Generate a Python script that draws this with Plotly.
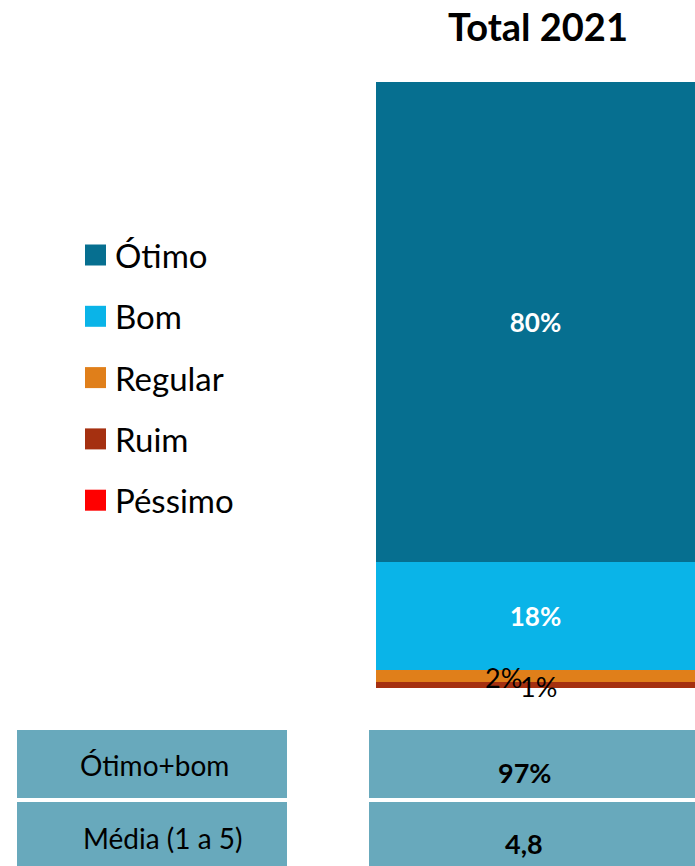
import plotly.graph_objects as go

categories = ["Total 2021"]
series_names = ["Péssimo", "Ruim", "Regular", "Bom", "Ótimo"]
series_values = [[0], [1], [2], [18], [80]]
series_colors = ["#ff0000", "#a53010", "#e07f1a", "#0ab4e8", "#066f90"]
legend_order = ["Ótimo", "Bom", "Regular", "Ruim", "Péssimo"]
table_labels = ["Ótimo+bom", "Média (1 a 5)"]
table_values = ["97%", "4,8"]

W, H = 695, 866
MT, MB = 82, 178
PH = H - MT - MB
FONT = "Lato"

def px(x):
    return x / W

def py(y):
    return (H - MB - y) / PH

fig = go.Figure()
for name, vals, col in zip(series_names, series_values, series_colors):
    big = vals[0] >= 10
    fig.add_trace(go.Bar(
        x=categories, y=vals, name=name, marker=dict(color=col, line=dict(width=0)),
        width=1,
        text=[f"{v}%" for v in vals] if big else None,
        textposition="inside", insidetextanchor="middle",
        textfont=dict(family=FONT, size=26, color="white", weight="bold"),
        showlegend=False, hoverinfo="skip",
    ))

# small-segment labels (placed from data)
cum = 0
small_shifts = {"Regular": (-32, -1), "Ruim": (3, -1)}
for name, vals in zip(series_names, series_values):
    v = vals[0]
    if name in small_shifts:
        xs, ys = small_shifts[name]
        fig.add_annotation(x=categories[0], y=cum + v / 2, text=f"{v}%", showarrow=False,
                           xshift=xs, yshift=ys,
                           font=dict(family=FONT, size=27, color="black"))
    cum += v

# legend
name_to_color = dict(zip(series_names, series_colors))
for i, name in enumerate(legend_order):
    cy = 255 + i * 61.3
    fig.add_shape(type="rect", xref="paper", yref="paper",
                  x0=px(85), x1=px(106), y0=py(cy + 10.5), y1=py(cy - 10.5),
                  fillcolor=name_to_color[name], line=dict(width=0))
    fig.add_annotation(xref="paper", yref="paper", x=px(113), y=py(cy), text=name,
                       xanchor="left", yanchor="middle", showarrow=False,
                       font=dict(family=FONT, size=33, color="black"))

# title
fig.add_annotation(xref="paper", yref="paper", x=px(538), y=py(26), text="<b>Total 2021</b>",
                   showarrow=False, xanchor="center", yanchor="middle",
                   font=dict(family=FONT, size=38, color="black"))

# table
rows = [(730, 798), (802, 870)]
cell_col = "#68a9bc"
for (y0, y1), lab, val in zip(rows, table_labels, table_values):
    fig.add_shape(type="rect", xref="paper", yref="paper", x0=px(17), x1=px(287),
                  y0=py(y1), y1=py(y0), fillcolor=cell_col, line=dict(width=0))
    fig.add_shape(type="rect", xref="paper", yref="paper", x0=px(369), x1=px(700),
                  y0=py(y1), y1=py(y0), fillcolor=cell_col, line=dict(width=0))
cy_lab = [765, 838]
cy_val = [772, 843]
cx_lab = [154, 163]
for lab, val, yl, yv, xl in zip(table_labels, table_values, cy_lab, cy_val, cx_lab):
    fig.add_annotation(xref="paper", yref="paper", x=px(xl), y=py(yl), text=lab,
                       showarrow=False, xanchor="center", yanchor="middle",
                       font=dict(family=FONT, size=28, color="black"))
    fig.add_annotation(xref="paper", yref="paper", x=px(524), y=py(yv), text=f"<b>{val}</b>",
                       showarrow=False, xanchor="center", yanchor="middle",
                       font=dict(family=FONT, size=27, color="black"))

fig.update_layout(
    width=W, height=H, barmode="stack",
    margin=dict(l=0, r=0, t=MT, b=MB),
    paper_bgcolor="white", plot_bgcolor="white",
    xaxis=dict(domain=[376 / W, 1], range=[-0.5, 0.5], visible=False, fixedrange=True),
    yaxis=dict(range=[0, sum(v[0] for v in series_values)], visible=False, fixedrange=True),
    uniformtext=dict(mode="show", minsize=8),
)

fig.write_html(
    "out.html",
    config={"displayModeBar": False},
    post_script="document.body.style.margin='0';"
                "document.documentElement.style.overflow='hidden';"
                "document.body.style.overflow='hidden';",
)
